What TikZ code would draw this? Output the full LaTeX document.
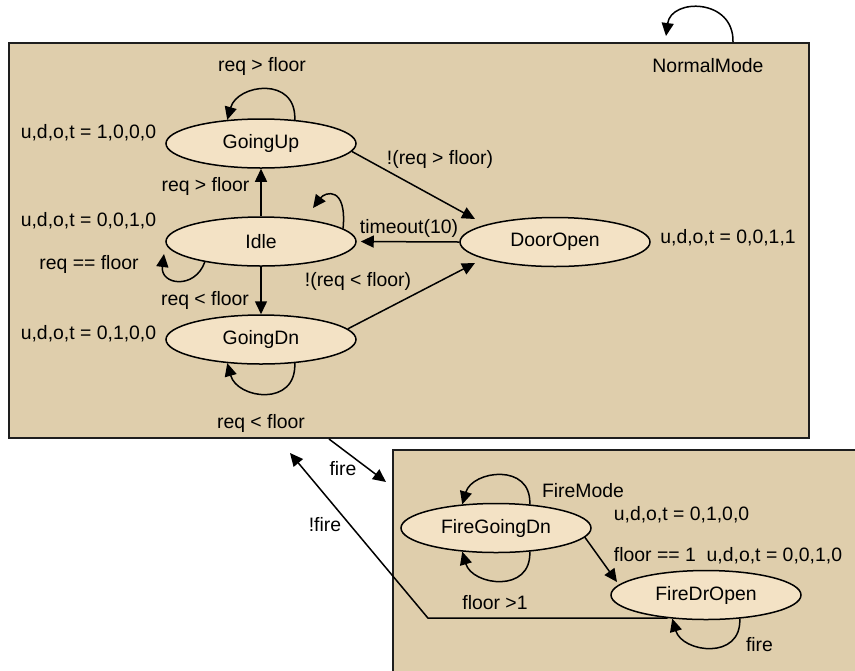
\documentclass[tikz,border=0pt]{standalone}
\usepackage{fontspec}
\setmainfont{Liberation Sans}
\usetikzlibrary{shapes.geometric,arrows.meta,calc}
\definecolor{boxfill}{RGB}{223,206,172}
\definecolor{ellfill}{RGB}{243,226,197}
\definecolor{boxline}{RGB}{30,30,30}
\begin{document}
\begin{tikzpicture}[x=0.5pt,y=0.5pt,
  font=\fontsize{9.7}{11.6}\selectfont,
  state/.style={ellipse,draw,line width=0.75pt,fill=ellfill,minimum width=95pt,minimum height=24.5pt,inner sep=0pt},
  modebox/.style={rectangle,draw=boxline,line width=1pt,fill=boxfill,inner sep=0pt},
  arr/.style={line width=0.75pt,-{Triangle[length=6.5pt,width=6pt]}},
  lbl/.style={inner sep=0pt,anchor=base}]
\useasboundingbox (0,0) rectangle (855,-670);
\clip (0,0) rectangle (855,-670);
% mode boxes
\node[modebox,minimum width=400pt,minimum height=197.5pt] (normalbox) at (409,-240.5) {};
\node[modebox,minimum width=240.5pt,minimum height=120pt] (firebox) at (633.5,-570) {};
% states
\node[state] (GoingUp) at (261,-143.5) {GoingUp};
\node[state] (Idle) at (261,-241.5) {Idle};
\node[state] (GoingDn) at (261,-339.5) {GoingDn};
\node[state] (DoorOpen) at (555,-242) {DoorOpen};
\node[state] (FireGoingDn) at (496,-528) {FireGoingDn};
\node[state] (FireDrOpen) at (706,-595) {FireDrOpen};
% labels
\node[lbl] (lNormal) at (708,-72) {NormalMode};
\node[lbl] (lUpLoop) at (262,-71) {req > floor};
\node[lbl] (oUp) at (88.5,-138.5) {u,d,o,t = 1,0,0,0};
\node[lbl] (lUpDoor) at (440,-164) {!(req > floor)};
\node[lbl] (lIdleUp) at (205.5,-191) {req > floor};
\node[lbl] (oIdle) at (88.5,-226) {u,d,o,t = 0,0,1,0};
\node[lbl] (lTimeout) at (409,-233) {timeout(10)};
\node[lbl] (oDoor) at (728,-243) {u,d,o,t = 0,0,1,1};
\node[lbl] (lIdleLoop) at (89,-269) {req == floor};
\node[lbl] (lDnDoor) at (358,-286) {!(req < floor)};
\node[lbl] (lIdleDn) at (205,-305) {req < floor};
\node[lbl] (oDn) at (88.5,-339) {u,d,o,t = 0,1,0,0};
\node[lbl] (lDnLoop) at (261,-428) {req < floor};
\node[lbl] (lFire) at (343,-475) {fire};
\node[lbl] (lFireMode) at (583,-497) {FireMode};
\node[lbl] (oFireDn) at (681.5,-520) {u,d,o,t = 0,1,0,0};
\node[lbl] (lNotFire) at (325,-531) {!fire};
\node[lbl] (lFloor1) at (728,-561) {floor == 1\ \ u,d,o,t = 0,0,1,0};
\node[lbl] (lFloorGt) at (495,-609) {floor >1};
\node[lbl] (lFireLoop) at (759.5,-651) {fire};
% edges
\draw[arr] (Idle.north) -- (GoingUp.south);
\draw[arr] (Idle.south) -- (GoingDn.north);
\draw[arr] (GoingUp.-5) -- ($(DoorOpen.center)+(-80,23)$);
\draw[arr,shorten >=2pt] (DoorOpen.west) -- (Idle.east);
\draw[arr] (GoingDn.7) -- ($(DoorOpen.center)+(-80,-21)$);
\draw[arr] (GoingUp.35) .. controls +(2,44) and +(10,36) .. (GoingUp.145);
\draw[arr] (GoingDn.-35) .. controls +(2,-44) and +(10,-36) .. (GoingDn.215);
\draw[arr] (Idle.9) .. controls +(4,43) and +(12,16) .. ($(Idle.center)+(52,33.5)$);
\draw[arr] (Idle.200) .. controls +(-10,-28) and +(-4,-31) .. ($(Idle.center)+(-97,-12.5)$);
\draw[arr] (FireGoingDn.35) .. controls +(2,42) and +(10,34) .. (FireGoingDn.145);
\draw[arr] (FireGoingDn.-35) .. controls +(2,-42) and +(10,-34) .. (FireGoingDn.215);
\draw[arr] (FireDrOpen.-35) .. controls +(2,-42) and +(10,-34) .. (FireDrOpen.215);
\draw[arr] (FireGoingDn.-6) -- ($(FireDrOpen.center)+(-89,13)$);
\draw[arr] ($(normalbox.south west)+(321,0)$) -- ($(firebox.north west)+(-6,-33)$);
\coordinate (firecorner) at (428,-620);
\draw[arr] (FireDrOpen.211) -- (FireDrOpen.211 -| firecorner) -- ($(normalbox.south west)+(282,-14)$);
\draw[arr] ($(normalbox.north west)+(725,0)$) .. controls +(1,44) and +(5,38) .. ($(normalbox.north west)+(658,6)$);
\end{tikzpicture}
\end{document}
